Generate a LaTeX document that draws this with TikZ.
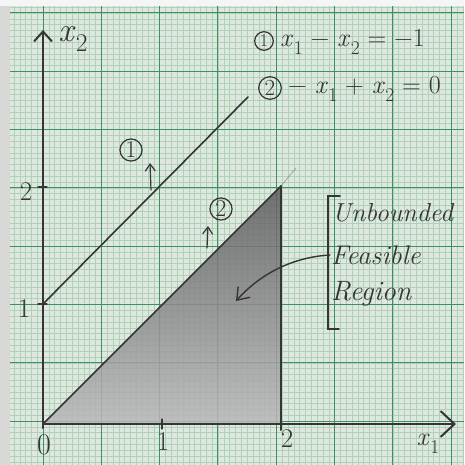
\documentclass[tikz,border=0pt]{standalone}
\usepackage{fontspec}
\usetikzlibrary{arrows.meta}
\definecolor{paper}{HTML}{E0E7E1}
\definecolor{minorg}{HTML}{ACD3B6}
\definecolor{majorg}{HTML}{3D9060}
\definecolor{pencil}{HTML}{353535}
\definecolor{shade}{HTML}{555555}
\definecolor{margin}{HTML}{D8D8D6}
\newcommand{\xv}[1]{\textit{x}\kern0.5pt\raisebox{-0.3em}{\scalebox{0.75}{#1}}}
\tikzset{
  pen/.style={draw=pencil, line width=1.6pt, line cap=round},
  thinpen/.style={draw=pencil, line width=1.2pt, line cap=round},
  hand/.style={text=pencil, inner sep=1pt},
  circlab/.style={draw=pencil, circle, line width=1.2pt, inner sep=1.5pt, text=pencil, font=\fontsize{18}{20}\selectfont},
  barb/.style={-{Straight Barb[length=7pt,width=10pt]}},
}
\begin{document}
\begin{tikzpicture}[x=1pt,y=-1pt]
\useasboundingbox (0,0) rectangle (464,465);
\fill[margin] (0,0) rectangle (464,465);
\fill[white!92!gray] (0,0) rectangle (464,6);
\fill[paper] (10,6) rectangle (464,465);
\begin{scope}
\clip (10,6) rectangle (464,465);
\foreach \i in {-6,...,72}
  \draw[minorg, line width=0.35pt] ({43+5.83*\i},6) -- ({43+5.83*\i},465);
\foreach \i in {-8,...,71}
  \draw[minorg, line width=0.35pt] (10,{421-5.83*\i}) -- (464,{421-5.83*\i});
\foreach \i in {-1,...,7}
  \draw[majorg, line width=0.9pt] ({43+58.3*\i},6) -- ({43+58.3*\i},465);
\foreach \i in {-1,...,7}
  \draw[majorg, line width=0.9pt] (10,{421-58.3*\i}) -- (464,{421-58.3*\i});
\end{scope}

% key points
\coordinate (O) at (43,424);
\coordinate (X1) at (162,424);
\coordinate (X2) at (281,424);
\coordinate (X2b) at (281,430);
\coordinate (Y1) at (43,304);
\coordinate (Y2) at (43,187);
\coordinate (P) at (281,186);
\coordinate (L1b) at (248,97);
\coordinate (L2c) at (296,168);
\coordinate (xend) at (456,424);
\coordinate (ytop) at (43,30);

% shaded feasible region
\fill[shade, opacity=0.62] (O) -- (P) -- (X2) -- cycle;
\draw[pencil!60, line width=1pt, opacity=0.6] (P) -- (L2c);

% axes
\draw[pen, line width=2pt, -{Straight Barb[length=14pt,width=26pt]}] (O) -- (xend);
\draw[pen, line width=2pt, -{Straight Barb[length=10pt,width=18pt]}] ([yshift=-4pt]O) -- (ytop);

% ticks
\draw[thinpen] ([yshift=5pt]X1) -- ([yshift=-5pt]X1);
\draw[thinpen] ([xshift=-5pt]Y1) -- ([xshift=4pt]Y1);
\draw[thinpen] ([xshift=-5pt]Y2) -- ([xshift=4pt]Y2);

% constraint lines
\draw[pen] (Y1) -- (L1b);
\draw[pen] (O) -- (P);
\draw[pen, line width=2pt] (P) -- (X2b);

% axis labels and numbers
\node[hand, font=\fontsize{34}{36}\selectfont] (lx2) at (73,39) {\xv{2}};
\node[hand, font=\fontsize{26}{28}\selectfont] (lx1) at (428,444) {\xv{1}};
\node[hand, font=\fontsize{30}{32}\selectfont] (n0) at (44,445) {0};
\node[hand, font=\fontsize{27}{30}\selectfont] (n1x) at (163,442) {1};
\node[hand, font=\fontsize{27}{30}\selectfont] (n2x) at (287,439) {2};
\node[hand, font=\fontsize{27}{30}\selectfont] (n1y) at (24,309) {1};
\node[hand, font=\fontsize{27}{30}\selectfont] (n2y) at (26,192) {2};

% equations
\node[circlab] (c1) at (264,41) {1};
\node[hand, anchor=west, font=\fontsize{26}{30}\selectfont] (eq1) at (279,42) {\xv{1} − \xv{2} = −1};
\node[circlab, font=\fontsize{23}{25}\selectfont] (c2) at (270,88) {2};
\node[hand, anchor=west, font=\fontsize{26}{30}\selectfont] (eq2) at (287,89) {− \xv{1} + \xv{2} = 0};

% line markers
\node[circlab, font=\fontsize{24}{26}\selectfont, inner sep=1pt] (m1) at (131,150) {1};
\coordinate (a1s) at (151,190);
\coordinate (a1e) at (150,163);
\draw[thinpen, barb] (a1s) -- (a1e);
\node[circlab, font=\fontsize{24}{26}\selectfont, inner sep=1pt] (m2) at (221,209) {2};
\coordinate (a2s) at (207,248);
\coordinate (a2e) at (208,226);
\draw[thinpen, barb] (a2s) -- (a2e);

% bracket and region label
\coordinate (bt) at (328,196);
\coordinate (bb) at (328,329);
\draw[pen] ([xshift=12pt]bt) -- (bt) -- (bb) -- ([xshift=11pt]bb);
\node[hand, anchor=west, font=\itshape\fontsize{26}{30}\selectfont] (unb) at (331,213) {Unbounded};
\node[hand, anchor=west, font=\itshape\fontsize{27}{30}\selectfont] (feas) at (330,255) {Feasible};
\node[hand, anchor=west, font=\itshape\fontsize{28}{30}\selectfont] (reg) at (330,294) {Region};
\draw[thinpen, line width=1.4pt, -{Straight Barb[length=11pt,width=16pt]}] (feas.west) .. controls (295,257) and (262,272) .. (236,301);
\end{tikzpicture}
\end{document}
